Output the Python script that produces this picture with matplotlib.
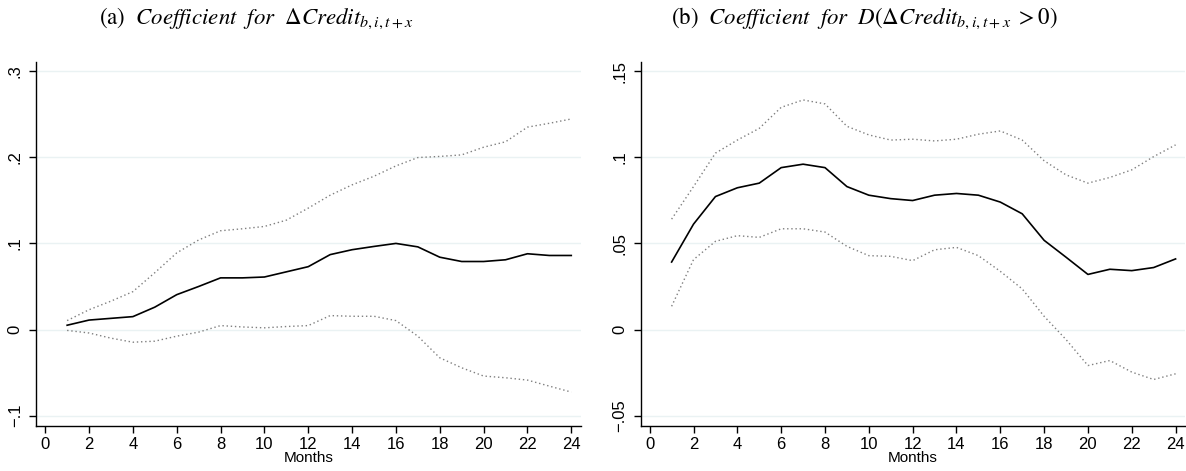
import matplotlib
matplotlib.use("Agg")
import matplotlib.pyplot as plt

months = list(range(1, 25))

# Panel (a): coefficient for Delta Credit
coef_a = [0.005, 0.011, 0.013, 0.015, 0.026, 0.0405, 0.050, 0.060, 0.060, 0.061,
          0.067, 0.073, 0.087, 0.0927, 0.0965, 0.100, 0.096, 0.084, 0.079, 0.079,
          0.081, 0.088, 0.086, 0.086]
upper_a = [0.0104, 0.023, 0.033, 0.044, 0.066, 0.089, 0.104, 0.1147, 0.117, 0.1197,
           0.127, 0.141, 0.156, 0.168, 0.178, 0.190, 0.1997, 0.201, 0.2028, 0.2117,
           0.218, 0.235, 0.2395, 0.2445]
lower_a = [-0.001, -0.004, -0.010, -0.0147, -0.0135, -0.0077, -0.003, 0.0046, 0.003, 0.002,
           0.0035, 0.0046, 0.0162, 0.0154, 0.0154, 0.0104, -0.0077, -0.0328, -0.0444, -0.054,
           -0.056, -0.0587, -0.0657, -0.0726]

# Panel (b): coefficient for D(Delta Credit > 0)
coef_b = [0.0392, 0.0612, 0.0772, 0.0823, 0.085, 0.094, 0.096, 0.094, 0.083, 0.078,
          0.076, 0.0749, 0.078, 0.079, 0.078, 0.074, 0.0672, 0.0518, 0.042, 0.032,
          0.035, 0.0342, 0.036, 0.041]
upper_b = [0.0641, 0.083, 0.1024, 0.110, 0.1168, 0.129, 0.1333, 0.131, 0.118, 0.113,
           0.110, 0.1105, 0.1095, 0.1105, 0.1134, 0.1153, 0.110, 0.098, 0.0898, 0.085,
           0.0883, 0.0927, 0.1004, 0.1072]
lower_b = [0.0135, 0.0406, 0.0512, 0.0545, 0.0535, 0.0585, 0.0585, 0.0566, 0.0483, 0.0429,
           0.0425, 0.040, 0.0463, 0.0477, 0.0429, 0.0338, 0.0236, 0.0077, -0.0058, -0.0209,
           -0.018, -0.0247, -0.029, -0.0257]

xticks = list(range(0, 25, 2))
yticks_a = [-0.1, 0, 0.1, 0.2, 0.3]
ylabels_a = ["\u2212.1", "0", ".1", ".2", ".3"]
yticks_b = [-0.05, 0, 0.05, 0.1, 0.15]
ylabels_b = ["\u2212.05", "0", ".05", ".1", ".15"]

titles = [r"$\mathrm{(a)}\ \ \mathit{Coefficient\ \ for}\ \ \Delta \mathit{Credit}_{b,i,t+x}$",
          r"$\mathrm{(b)}\ \ \mathit{Coefficient\ \ for\ \ D(}\Delta \mathit{Credit}_{b,i,t+x}\ > 0\mathit{)}$"]

plt.rcParams['mathtext.fontset'] = 'stix'
plt.rcParams['font.family'] = ['Liberation Sans', 'DejaVu Sans']

W, H = 1186, 471
fig = plt.figure(figsize=(W / 100, H / 100), dpi=100)

def px_axes(x0, x1, y0, y1):
    return fig.add_axes([x0 / W, 1 - y1 / H, (x1 - x0) / W, (y1 - y0) / H])

ax_a = px_axes(36, 580.7, 61.7, 426)
ax_b = px_axes(640.5, 1185, 61.7, 426)

grid_color = "#eaf2f3"
panels = [
    (ax_a, coef_a, upper_a, lower_a, yticks_a, ylabels_a, (-0.112, 0.311), titles[0], 256),
    (ax_b, coef_b, upper_b, lower_b, yticks_b, ylabels_b, (-0.056, 0.1555), titles[1], 864),
]

for ax, coef, up, lo, yt, yl, ylim, title, tx in panels:
    for v in yt:
        ax.axhline(v, color=grid_color, lw=1.0, zorder=0)
    ax.plot(months, up, color="#7f7f7f", lw=1.0, ls=(0, (1, 2)), zorder=2)
    ax.plot(months, lo, color="#7f7f7f", lw=1.0, ls=(0, (1, 2)), zorder=2)
    ax.plot(months, coef, color="black", lw=1.2, zorder=3)
    ax.set_xlim(-0.42, 24.43)
    ax.set_ylim(*ylim)
    ax.set_xticks(xticks)
    ax.set_xticklabels([str(t) for t in xticks], fontsize=12)
    ax.set_yticks(yt)
    ax.set_yticklabels(yl, fontsize=12, rotation=90, va="center")
    ax.spines["top"].set_visible(False)
    ax.spines["right"].set_visible(False)
    ax.spines["left"].set_linewidth(1.0)
    ax.spines["bottom"].set_linewidth(1.0)
    ax.tick_params(direction="out", length=5, width=1.0, pad=3)
    ax.tick_params(axis="y", pad=4.5)
    ax.set_xlabel("Months", fontsize=11, labelpad=-1)
    fig.text(tx / W, 1 - 18 / H, title, ha="center", va="center", fontsize=16.5)

fig.savefig("out.png", dpi=100, facecolor="white")
